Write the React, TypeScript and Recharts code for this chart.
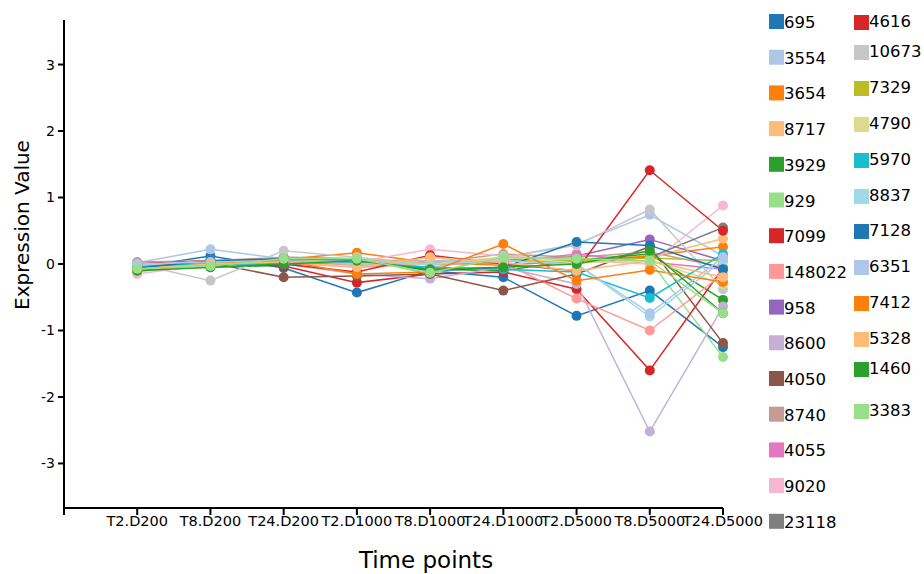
import { LineChart, Line, XAxis, YAxis } from 'recharts';

const timePoints = ['T2.D200', 'T8.D200', 'T24.D200', 'T2.D1000', 'T8.D1000', 'T24.D1000', 'T2.D5000', 'T8.D5000', 'T24.D5000'];

const geneIds = ['695', '3554', '3654', '8717', '3929', '929', '7099', '148022', '958', '8600', '4050', '8740', '4055', '9020', '23118',
    '4616', '10673', '7329', '4790', '5970', '8837', '7128', '6351', '7412', '5328', '1460', '3383'];

const geneColors = ['#1f77b4', '#aec7e8', '#ff7f0e', '#ffbb78', '#2ca02c', '#98df8a', '#d62728', '#ff9896', '#9467bd', '#c5b0d5',
    '#8c564b', '#c49c94', '#e377c2', '#f7b6d2', '#7f7f7f', '#d62728', '#c7c7c7', '#bcbd22', '#dbdb8d', '#17becf', '#9edae5',
    '#1f77b4', '#aec7e8', '#ff7f0e', '#ffbb78', '#2ca02c', '#98df8a'];

const g695 = [-0.05, 0.12, -0.06, -0.43, -0.1, -0.2, -0.78, -0.4, -1.25];
const g3554 = [0.02, 0.22, 0.08, 0.02, -0.05, 0.1, 0.3, 0.74, 0.12];
const g3654 = [-0.02, 0.04, 0.07, 0.17, 0.02, -0.02, 0.05, 0.12, 0.26];
const g8717 = [-0.12, 0.02, 0.05, 0.06, 0.05, 0.08, 0.02, 0.1, 0.38];
const g3929 = [-0.08, -0.05, -0.02, 0.04, -0.08, -0.1, 0.06, 0.15, -0.54];
const g929 = [-0.1, -0.03, 0.1, 0.08, -0.15, 0.12, 0.05, 0.05, -1.4];
const g7099 = [0.0, 0.03, -0.03, -0.28, -0.15, -0.12, -0.38, -1.6, -0.06];
const g148022 = [-0.05, 0.0, 0.02, -0.05, 0.0, 0.02, -0.52, -1.0, -0.15];
const g958 = [0.0, 0.05, 0.03, 0.0, 0.05, 0.05, 0.12, 0.37, 0.05];
const g8600 = [-0.08, -0.02, 0.0, -0.15, -0.22, -0.05, -0.3, -2.52, -0.64];
const g4050 = [-0.05, 0.02, -0.2, -0.18, -0.15, -0.4, -0.15, 0.26, -1.19];
const g8740 = [0.03, 0.05, 0.1, 0.08, 0.02, 0.15, 0.1, 0.18, -0.05];
const g4055 = [-0.03, 0.02, 0.04, -0.02, 0.0, 0.02, 0.15, 0.03, -0.08];
const g9020 = [-0.15, 0.0, 0.05, 0.03, 0.22, 0.12, 0.05, 0.0, 0.88];
const g23118 = [-0.04, 0.0, 0.05, 0.02, 0.0, 0.05, 0.05, 0.1, 0.55];
const g4616 = [0.0, 0.05, 0.0, -0.12, 0.13, 0.0, -0.1, 1.41, 0.5];
const g10673 = [0.0, -0.25, 0.2, 0.1, -0.02, 0.1, 0.28, 0.82, -0.38];
const g7329 = [-0.02, 0.02, 0.03, 0.05, 0.0, 0.05, 0.05, 0.09, 0.05];
const g4790 = [-0.05, 0.0, 0.02, 0.0, 0.0, 0.1, 0.02, 0.05, -0.3];
const g5970 = [-0.03, 0.0, 0.0, 0.02, -0.05, -0.08, -0.12, -0.51, 0.15];
const g8837 = [-0.02, 0.05, 0.03, 0.05, 0.0, 0.05, 0.0, -0.79, 0.05];
const g7128 = [-0.06, 0.05, 0.08, 0.06, -0.1, -0.05, 0.33, 0.28, -0.08];
const g6351 = [0.0, 0.03, 0.05, 0.0, 0.05, 0.05, 0.0, -0.74, 0.1];
const g7412 = [-0.1, 0.0, 0.05, -0.15, -0.12, 0.3, -0.25, -0.09, -0.27];
const g5328 = [-0.08, 0.0, 0.03, -0.05, 0.1, 0.02, -0.1, 0.05, -0.2];
const g1460 = [-0.1, -0.05, 0.0, 0.05, -0.08, -0.05, 0.0, 0.2, -0.74];
const g3383 = [-0.07, -0.03, 0.08, 0.08, -0.13, 0.1, 0.08, 0.05, -0.74];

const geneValues = [g695, g3554, g3654, g8717, g3929, g929, g7099, g148022, g958, g8600, g4050, g8740, g4055, g9020, g23118,
    g4616, g10673, g7329, g4790, g5970, g8837, g7128, g6351, g7412, g5328, g1460, g3383];

const yTicks = [-3, -2, -1, 0, 1, 2, 3];

// x slot 0 is an empty tick, time points start at slot 1
const data = timePoints.map((tp, i) => {
    const row: Record<string, number | string> = { slot: i + 1, name: tp };
    geneIds.forEach((id, k) => {
        row[id] = geneValues[k][i];
    });
    return row;
});

// legend layout (two columns)
const leftColCount = 15;
const rightRowTops = [15, 45, 81, 117, 153, 189, 224, 260, 296, 332, 362, 404];

const font = 'DejaVu Sans, Verdana, sans-serif';

export default function App() {
    return (
        <div style={{ position: 'absolute', left: 0, top: 0, width: 924, height: 574, background: '#fff', fontFamily: font }}>
            <LineChart
                width={924}
                height={574}
                data={data}
                margin={{ top: 20, right: 201, left: 14, bottom: 36 }}
            >
                <XAxis
                    dataKey="slot"
                    type="number"
                    domain={[0, 9]}
                    ticks={[0, 1, 2, 3, 4, 5, 6, 7, 8, 9]}
                    tickFormatter={(v: number) => (v === 0 ? '' : timePoints[v - 1])}
                    height={30}
                    interval={0}
                    tick={{ fontSize: 14.5, fill: '#000', fontFamily: font }}
                    axisLine={{ stroke: '#000', strokeWidth: 2 }}
                    tickLine={{ stroke: '#000', strokeWidth: 2 }}
                    tickSize={7}
                    tickMargin={1}
                />
                <YAxis
                    type="number"
                    domain={[-3.67, 3.67]}
                    ticks={yTicks}
                    width={50}
                    tick={{ fontSize: 14, fill: '#000', fontFamily: font }}
                    axisLine={{ stroke: '#000', strokeWidth: 2 }}
                    tickLine={{ stroke: '#000', strokeWidth: 2 }}
                    tickSize={6}
                    tickMargin={3}
                    allowDataOverflow
                />
                {geneIds.map((id, k) => (
                    <Line
                        key={id}
                        dataKey={id}
                        type="linear"
                        stroke={geneColors[k]}
                        strokeWidth={1.5}
                        dot={{ r: 5, fill: geneColors[k], stroke: 'none' }}
                        isAnimationActive={false}
                    />
                ))}
            </LineChart>
            <svg width={924} height={574} style={{ position: 'absolute', left: 0, top: 0, pointerEvents: 'none' }}>
                <text x={29} y={225} transform="rotate(-90 29 225)" textAnchor="middle" fontSize={20} fontFamily={font} fill="#000">
                    Expression Value
                </text>
                <text x={426} y={568} textAnchor="middle" fontSize={23} fontFamily={font} fill="#000">
                    Time points
                </text>
                {geneIds.map((id, k) => {
                    const left = k < leftColCount;
                    const top = left ? 14 + 35.7 * k : rightRowTops[k - leftColCount];
                    const sx = left ? 769 : 854;
                    return (
                        <g key={id}>
                            <rect x={sx} y={top} width={15} height={15} fill={geneColors[k]} />
                            <text x={sx + 15} y={left ? top + 14 : top + 12} fontSize={16.5} fontFamily={font} fill="#000">
                                {id}
                            </text>
                        </g>
                    );
                })}
            </svg>
        </div>
    );
}
